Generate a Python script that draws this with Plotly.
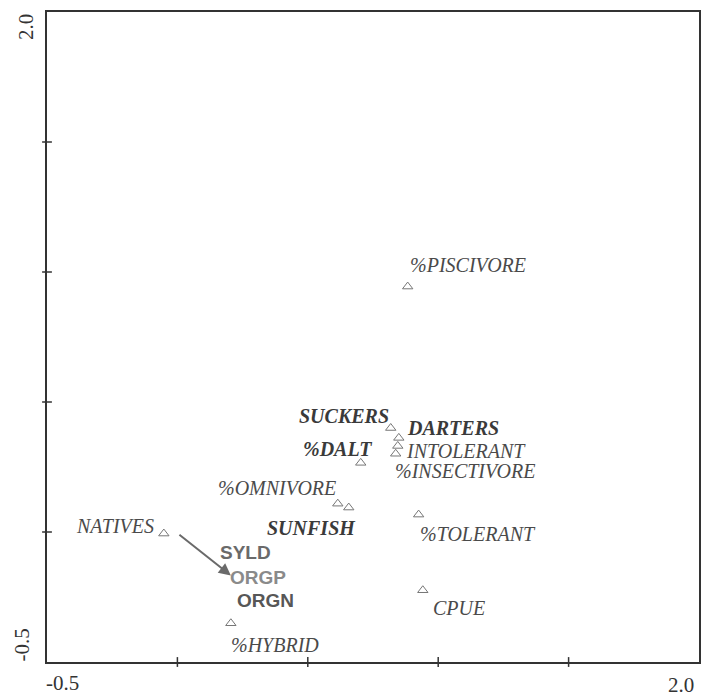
import plotly.graph_objects as go

# Species / community metric scores on ordination axes 1 and 2
labels = ["%PISCIVORE", "SUCKERS", "DARTERS", "INTOLERANT", "%INSECTIVORE", "%DALT",
          "%OMNIVORE", "SUNFISH", "%TOLERANT", "CPUE", "NATIVES", "%HYBRID"]
axis1 = [0.883, 0.818, 0.849, 0.845, 0.837, 0.703, 0.615, 0.657, 0.925, 0.941, -0.052, 0.205]
axis2 = [0.944, 0.400, 0.362, 0.331, 0.301, 0.266, 0.109, 0.094, 0.067, -0.224, -0.006, -0.351]

# Environmental variables
env_labels = ["SYLD", "ORGP", "ORGN"]
env_axis1 = [0.262, 0.308, 0.338]
env_axis2 = [-0.079, -0.174, -0.262]

# Arrow from NATIVES toward the nutrient variables
arrow_tail = (0.002, -0.006)
arrow_head = (0.205, -0.167)

tick_values = [-0.5, 0.0, 0.5, 1.0, 1.5, 2.0]
axis_min, axis_max = -0.5, 2.0

# label placement (anchor, xshift, yshift, bold)
label_style = {
    "%PISCIVORE": ("left", 0, 22, False),
    "SUCKERS": ("right", 0, 12, True),
    "DARTERS": ("left", 6, 10, True),
    "INTOLERANT": ("left", 6, -5, False),
    "%INSECTIVORE": ("left", -3, -17, False),
    "%DALT": ("right", 13, 14, True),
    "%OMNIVORE": ("right", 0, 16, False),
    "SUNFISH": ("right", 9, -20, True),
    "%TOLERANT": ("left", -1, -19, False),
    "CPUE": ("left", 8, -18, False),
    "NATIVES": ("right", -8, 8, False),
    "%HYBRID": ("left", -2, -22, False),
}
env_colors = {"SYLD": "#6a6a6a", "ORGP": "#8a8a8a", "ORGN": "#575757"}

fig = go.Figure()

fig.add_trace(go.Scatter(
    x=axis1, y=axis2, mode="markers",
    marker=dict(symbol="triangle-up-open", size=9, color="#777777", line=dict(width=1)),
    hoverinfo="text", text=labels, showlegend=False,
))

# tick marks crossing the bottom and left axes
fig.add_trace(go.Scatter(
    x=tick_values[1:-1], y=[axis_min] * (len(tick_values) - 2), mode="markers",
    marker=dict(symbol="line-ns-open", size=7, color="#333333", line=dict(width=1.5, color="#333333")),
    cliponaxis=False, hoverinfo="skip", showlegend=False,
))
fig.add_trace(go.Scatter(
    x=[axis_min] * (len(tick_values) - 2), y=tick_values[1:-1], mode="markers",
    marker=dict(symbol="line-ew-open", size=7, color="#333333", line=dict(width=1.5, color="#333333")),
    cliponaxis=False, hoverinfo="skip", showlegend=False,
))

annotations = []
for name, xv, yv in zip(labels, axis1, axis2):
    anchor, dx, dy, bold = label_style[name]
    text = f"<i>{name}</i>"
    if bold:
        text = f"<b>{text}</b>"
    annotations.append(dict(
        x=xv, y=yv, xref="x", yref="y", text=text, showarrow=False,
        xanchor=anchor, yanchor="middle", xshift=dx, yshift=dy,
        font=dict(family="Liberation Serif", size=20,
                  color="#3a3a3a" if bold else "#4a4a4a"),
    ))

for name, xv, yv in zip(env_labels, env_axis1, env_axis2):
    annotations.append(dict(
        x=xv, y=yv, xref="x", yref="y", text=f"<b>{name}</b>", showarrow=False,
        xanchor="center", yanchor="middle",
        font=dict(family="Liberation Sans", size=19, color=env_colors[name]),
    ))

annotations.append(dict(
    x=arrow_head[0], y=arrow_head[1], ax=arrow_tail[0], ay=arrow_tail[1],
    xref="x", yref="y", axref="x", ayref="y", text="", showarrow=True,
    arrowhead=2, arrowsize=1.2, arrowwidth=2, arrowcolor="#6a6a6a",
))

# corner tick labels
tick_font = dict(family="Liberation Serif", size=21, color="#333333")
annotations += [
    dict(x=axis_min, y=0, xref="x", yref="paper", text="-0.5", showarrow=False,
         xanchor="left", yanchor="top", yshift=-7, xshift=-3, font=tick_font),
    dict(x=axis_max, y=0, xref="x", yref="paper", text="2.0", showarrow=False,
         xanchor="right", yanchor="top", yshift=-9, xshift=-3, font=tick_font),
    dict(x=0, y=axis_max, xref="paper", yref="y", text="2.0", showarrow=False,
         xanchor="right", yanchor="top", xshift=-7, yshift=0, textangle=-90, font=tick_font),
    dict(x=0, y=axis_min, xref="paper", yref="y", text="-0.5", showarrow=False,
         xanchor="right", yanchor="bottom", xshift=-12, yshift=-2, textangle=-90, font=tick_font),
]

axis_style = dict(
    range=[axis_min, axis_max], showgrid=False, zeroline=False, showticklabels=False,
    ticks="", showline=True, mirror=True, linecolor="#333333", linewidth=1.5,
)

fig.update_layout(
    width=711, height=700,
    margin=dict(l=47, r=11, t=10, b=38),
    paper_bgcolor="white", plot_bgcolor="white",
    xaxis=axis_style, yaxis=axis_style,
    annotations=annotations, showlegend=False,
)

fig.write_html("out.html")
